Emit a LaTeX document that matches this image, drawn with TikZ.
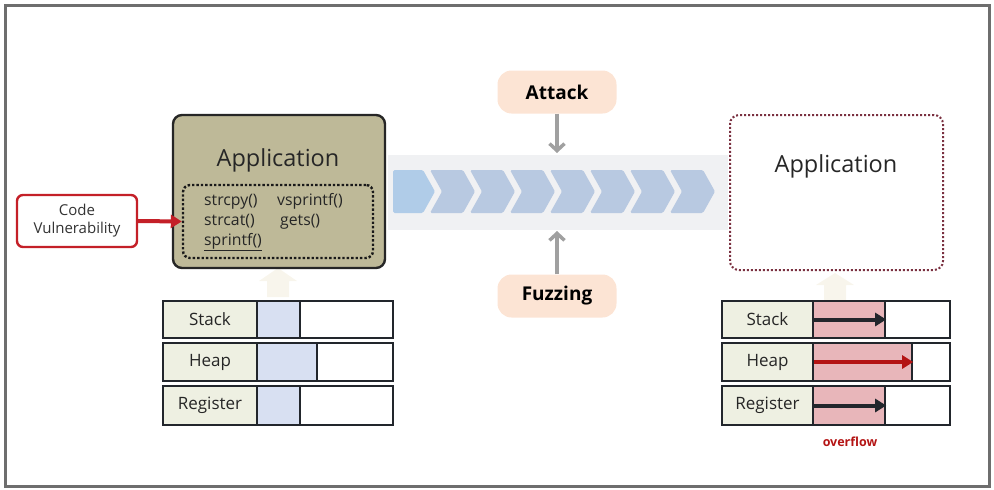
\documentclass[tikz,border=0pt]{standalone}
\usepackage{fontspec}
\setmainfont{Open Sans}
\usetikzlibrary{arrows.meta}
\definecolor{frameGray}{RGB}{110,110,110}
\definecolor{appFill}{RGB}{190,185,152}
\definecolor{cvRed}{RGB}{196,32,40}
\definecolor{bandGray}{RGB}{240,241,243}
\definecolor{chevBlue}{RGB}{184,201,225}
\definecolor{chevFirst}{RGB}{176,204,232}
\definecolor{pillPeach}{RGB}{252,228,212}
\definecolor{arrowGray}{RGB}{160,160,160}
\definecolor{dotRed}{RGB}{122,48,64}
\definecolor{labelFill}{RGB}{238,240,226}
\definecolor{usedBlue}{RGB}{216,224,242}
\definecolor{overPink}{RGB}{232,182,186}
\definecolor{cellLine}{RGB}{34,38,44}
\definecolor{ghostArrow}{RGB}{248,245,236}
\definecolor{overRed}{RGB}{180,20,20}
\tikzset{
  cell/.style={draw=cellLine, line width=2.4pt, inner sep=0pt, font=\fontsize{17}{19}\selectfont, text=black!85},
  pill/.style={fill=pillPeach, rounded corners=14pt, minimum width=119pt, minimum height=43pt, inner sep=0pt, font=\fontsize{19}{21}\selectfont\bfseries},
  grayarrow/.style={draw=arrowGray, line width=3.5pt, -{Straight Barb[length=7pt,width=15pt]}},
  chev/.style={fill=chevBlue, rounded corners=1.5pt},
  fillarrow/.style={line width=4pt, -{Triangle[length=11pt,width=13pt]}},
}
\begin{document}
\begin{tikzpicture}[x=1pt,y=-1pt]
\useasboundingbox (0,0) rectangle (994,490);
% outer frame
\draw[frameGray, line width=3pt] (5,5) rectangle (989,486);

% flow band with chevrons
\node[fill=bandGray, minimum width=340pt, minimum height=75pt, inner sep=0pt] (band) at (558,192.5) {};
\fill[chevFirst, rounded corners=1.5pt] (393,170) -- (423,170) -- (435,191.5) -- (423,213) -- (393,213) -- cycle;
\foreach \t in {475,515,...,715}{
  \fill[chev] (\t-45,170) -- (\t-12,170) -- (\t,191.5) -- (\t-12,213) -- (\t-45,213) -- (\t-33,191.5) -- cycle;
}

% faint block arrows under the application boxes
\fill[ghostArrow] (267,297) -- (267,281) -- (259,281) -- (278,268) -- (297,281) -- (289,281) -- (289,297) -- cycle;
\fill[ghostArrow] (824,300) -- (824,285) -- (816,285) -- (835,273) -- (854,285) -- (846,285) -- (846,300) -- cycle;

% left application
\node[draw=black!85, line width=2.4pt, fill=appFill, rounded corners=9pt, minimum width=212pt, minimum height=153pt] (appL) at (279,191.5) {};
\node[font=\fontsize{23.5}{26}\selectfont, text=black!85] (appLtext) at (278,160) {Application};
\node[draw=black!90, line width=2.4pt, dotted, rounded corners=7pt, minimum width=190pt, minimum height=73pt] (calls) at (278,221.5) {};
\node[anchor=west, font=\fontsize{15.8}{20}\selectfont, align=left, text=black!85, inner sep=0pt] (callstext) at (204,222)
  {\makebox[73pt][l]{strcpy()}vsprintf()\\\makebox[76pt][l]{strcat()}gets()\\\underline{sprintf()}};

% code vulnerability
\node[draw=cvRed, line width=2.4pt, fill=white, rounded corners=6pt, minimum width=120pt, minimum height=52pt, align=center, font=\fontsize{15}{18}\selectfont, text=black!80] (cv) at (77,221) {Code\\Vulnerability};
\draw[cvRed, fillarrow] (cv.east) -- (calls.west);

% attack / fuzzing
\node[pill] (attack) at (557,92) {Attack};
\node[pill] (fuzz) at (557,296) {Fuzzing};
\coordinate (bandTop) at (557,153);
\coordinate (bandBot) at (557,231);
\draw[grayarrow] (attack.south) -- (bandTop);
\draw[grayarrow] (fuzz.north) -- (bandBot);

% right application
\node[draw=dotRed, line width=2pt, dotted, rounded corners=9pt, fill=white, minimum width=213pt, minimum height=155pt] (appR) at (836.5,192.5) {};
\node[font=\fontsize{23.5}{26}\selectfont, text=black!85] (appRtext) at (836,166) {Application};

% memory before the attack
\node[cell, fill=labelFill, minimum width=94pt, minimum height=37pt] (lsL) at (210,319.5) {Stack};
\node[cell, fill=usedBlue, minimum width=43pt, minimum height=37pt] (lsU) at (278.5,319.5) {};
\node[cell, fill=white, minimum width=93pt, minimum height=37pt] (lsF) at (346.5,319.5) {};
\node[cell, fill=labelFill, minimum width=94pt, minimum height=38pt] (lhL) at (210,362) {Heap};
\node[cell, fill=usedBlue, minimum width=60pt, minimum height=38pt] (lhU) at (287,362) {};
\node[cell, fill=white, minimum width=76pt, minimum height=38pt] (lhF) at (355,362) {};
\node[cell, fill=labelFill, minimum width=94pt, minimum height=39pt] (lrL) at (210,405.5) {Register};
\node[cell, fill=usedBlue, minimum width=43pt, minimum height=39pt] (lrU) at (278.5,405.5) {};
\node[cell, fill=white, minimum width=93pt, minimum height=39pt] (lrF) at (346.5,405.5) {};

% memory after the attack
\node[cell, fill=labelFill, minimum width=91pt, minimum height=37pt] (rsL) at (767.5,319.5) {Stack};
\node[cell, fill=overPink, minimum width=72pt, minimum height=37pt] (rsU) at (849,319.5) {};
\node[cell, fill=white, minimum width=65pt, minimum height=37pt] (rsF) at (917.5,319.5) {};
\node[cell, fill=labelFill, minimum width=91pt, minimum height=38pt] (rhL) at (767.5,362) {Heap};
\node[cell, fill=overPink, minimum width=99pt, minimum height=38pt] (rhU) at (862.5,362) {};
\node[cell, fill=white, minimum width=38pt, minimum height=38pt] (rhF) at (931,362) {};
\node[cell, fill=labelFill, minimum width=91pt, minimum height=39pt] (rrL) at (767.5,405.5) {Register};
\node[cell, fill=overPink, minimum width=72pt, minimum height=39pt] (rrU) at (849,405.5) {};
\node[cell, fill=white, minimum width=65pt, minimum height=39pt] (rrF) at (917.5,405.5) {};

\draw[cellLine, fillarrow] ([xshift=2pt]rsU.west) -- (rsU.east);
\draw[overRed, fillarrow, line width=3.4pt] ([xshift=2pt]rhU.west) -- (rhU.east);
\draw[cellLine, fillarrow] ([xshift=2pt]rrU.west) -- (rrU.east);

\node[font=\fontsize{12.5}{14}\selectfont\bfseries, text=overRed] (ovf) at (850,442) {overflow};
\end{tikzpicture}
\end{document}
